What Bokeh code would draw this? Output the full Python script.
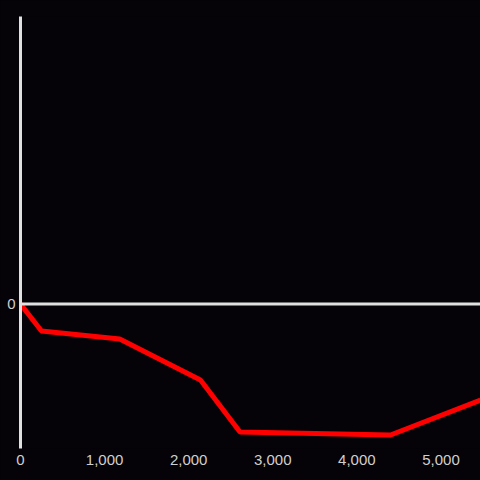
from bokeh.plotting import figure
from bokeh.models import Span, FixedTicker, NumeralTickFormatter, Range1d
from bokeh.embed import file_html
from bokeh.resources import INLINE

# data
x_vals = [0, 250, 1180, 2140, 2610, 4400, 5470]
y_vals = [0, -27, -35, -76, -128, -131, -96]
x_ticks = [0, 1000, 2000, 3000, 4000, 5000]
y_ticks = [0]

BG = "#050307"
AX = "#e0e0e0"
LBL = "#d0d0d0"

p = figure(width=480, height=480, output_backend="svg", toolbar_location=None,
           x_range=Range1d(0, 5470), y_range=Range1d(-144.5, 287.5),
           background_fill_color=BG, border_fill_color=BG,
           min_border_left=20, min_border_right=0, min_border_top=16, min_border_bottom=32)
p.outline_line_color = None
p.xgrid.grid_line_color = None
p.ygrid.grid_line_color = None

p.xaxis.ticker = FixedTicker(ticks=x_ticks)
p.xaxis.formatter = NumeralTickFormatter(format="0,0")
p.yaxis.ticker = FixedTicker(ticks=y_ticks)

for ax in (p.xaxis[0], p.yaxis[0]):
    ax.major_tick_line_color = None
    ax.minor_tick_line_color = None
    ax.major_tick_out = 0
    ax.major_tick_in = 0
    ax.minor_tick_out = 0
    ax.major_label_text_color = LBL
    ax.major_label_text_font = "Liberation Sans"
    ax.major_label_text_font_size = "15px"

p.xaxis.axis_line_color = None
p.xaxis.major_label_standoff = 6
p.yaxis.axis_line_color = AX
p.yaxis.axis_line_width = 3
p.yaxis.major_label_standoff = 5

p.add_layout(Span(location=0, dimension="width", line_color=AX, line_width=3))

p.line(x_vals, y_vals, line_color="#ff0000", line_width=5)

html = file_html(p, INLINE)
html = html.replace("<head>", "<head><style>html, body { background: %s; }</style>" % BG, 1)
open("out.html", "w").write(html)
